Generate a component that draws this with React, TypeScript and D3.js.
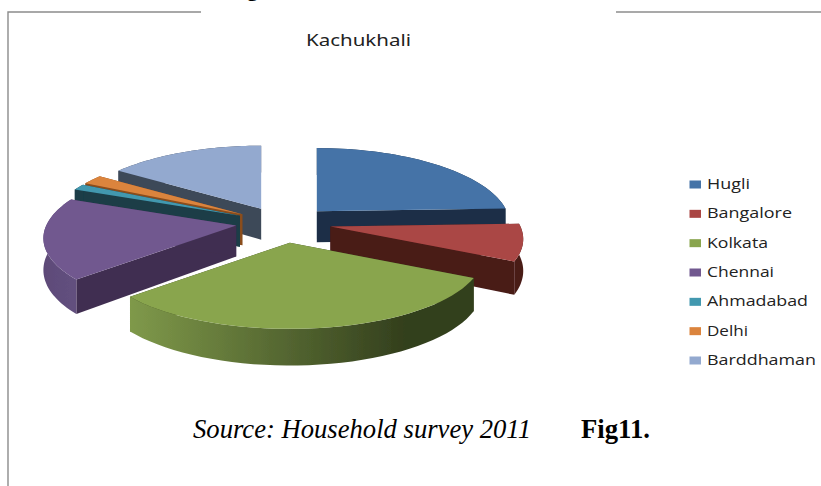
import React from "react";
import * as d3 from "d3";

const categories = ["Hugli", "Bangalore", "Kolkata", "Chennai", "Ahmadabad", "Delhi", "Barddhaman"];
const values = [24.4, 8.0, 31.0, 17.8, 1.35, 2.05, 15.4];
const topColors = ["#4573a7", "#aa4644", "#89a54e", "#71588f", "#4298af", "#db843d", "#93a9cf"];
const wallColors = ["#1c2f47", "#481b18", "#37431f", "#412f51", "#1a3d47", "#8a4d1e", "#3d4859"];
const rimLeftColors = ["#1c2f47", "#481b18", "#7f994a", "#5d4a78", "#1a3d47", "#8a4d1e", "#3d4859"];
const rimRightColors = ["#1c2f47", "#481b18", "#333f1d", "#624f7e", "#1a3d47", "#8a4d1e", "#3d4859"];
const drawOrder = [6, 5, 4, 3, 0, 1, 2];
const legendWidths = [43, 85, 61, 67, 101, 41, 109];

const W = 821, H = 486;
const cx = 283.5, cy = 222, rx = 190, ry = 72.8, perspX = 0.17, perspY = 0.154, depth = 31;
const explodeX = 48, explodeUp = 15, explodeDown = 21;

const project = (a: number) => {
  const u = Math.sin(a), v = -Math.cos(a);
  const sx = 1 / (1 - perspX * v);
  const sy = 1 / (1 - perspY * v);
  return { x: rx * u * sx, y: ry * v * sy, s: sy };
};

const pieGen = d3.pie<number>().sort(null).startAngle(0).endAngle(2 * Math.PI);
const arcs = pieGen(values);
const line = d3.line<[number, number]>();

const legendY = d3.scalePoint<string>().domain(categories).range([184, 360]);

export default function App() {
  const slices = arcs.map((arc, i) => {
    const mid = (arc.startAngle + arc.endAngle) / 2;
    const mv = -Math.cos(mid);
    const ax = cx + explodeX * Math.sin(mid);
    const ay = cy + (mv > 0 ? explodeDown : explodeUp) * mv;
    const steps = d3.range(0, 41).map((k) => arc.startAngle + ((arc.endAngle - arc.startAngle) * k) / 40);
    const rim = steps.map((a) => {
      const p = project(a);
      return { x: ax + p.x, y: ay + p.y, d: depth * p.s };
    });
    const top: [number, number][] = [[ax, ay], ...rim.map((p) => [p.x, p.y] as [number, number])];
    const rimWall: [number, number][] = [
      ...rim.map((p) => [p.x, p.y] as [number, number]),
      ...rim.slice().reverse().map((p) => [p.x, p.y + p.d] as [number, number]),
    ];
    const wall = (p: { x: number; y: number; d: number }): [number, number][] => [
      [ax, ay], [p.x, p.y], [p.x, p.y + p.d], [ax, ay + depth],
    ];
    return {
      i,
      top: line(top) + "Z",
      rimWall: line(rimWall) + "Z",
      wallA: line(wall(rim[0])) + "Z",
      wallB: line(wall(rim[rim.length - 1])) + "Z",
      x0: d3.min(rim, (p) => p.x)!,
      x1: d3.max(rim, (p) => p.x)!,
    };
  });

  return (
    <svg width={W} height={H} viewBox={`0 0 ${W} ${H}`} style={{ position: "absolute", left: 0, top: 0, background: "#fff" }}>
      <defs>
        <filter id="soft" x="-5%" y="-5%" width="110%" height="110%">
          <feGaussianBlur stdDeviation="0.45" />
        </filter>
        {slices.map((s) => (
          <linearGradient key={s.i} id={`rim${s.i}`} gradientUnits="userSpaceOnUse" x1={s.x0} x2={s.x1} y1={0} y2={0}>
            <stop offset="0" stopColor={rimLeftColors[s.i]} />
            <stop offset="0.8" stopColor={rimRightColors[s.i]} />
            <stop offset="1" stopColor={rimRightColors[s.i]} />
          </linearGradient>
        ))}
      </defs>

      <path d="M201,12H8V486" fill="none" stroke="#8c8c8c" strokeWidth={1.4} />
      <path d="M616,12H821" fill="none" stroke="#8c8c8c" strokeWidth={1.4} />
      <text x={247} y={-4} fontFamily="Liberation Serif" fontWeight="bold" fontSize={22} fill="#000">g</text>

      <text x={306} y={46} fontFamily="Noto Sans" fontSize={17} textLength={105} lengthAdjust="spacingAndGlyphs" fill="#222">Kachukhali</text>

      <g filter="url(#soft)">
        {drawOrder.map((i) => {
          const s = slices[i];
          return (
            <g key={i}>
              <path d={s.wallA} fill={wallColors[i]} />
              <path d={s.wallB} fill={wallColors[i]} />
              <path d={s.rimWall} fill={`url(#rim${i})`} />
              <path d={s.top} fill={topColors[i]} />
            </g>
          );
        })}
      </g>

      {categories.map((c, i) => (
        <g key={c}>
          <rect x={689.5} y={legendY(c)! - 3.5} width={11.5} height={8} fill={topColors[i]} />
          <text x={707} y={legendY(c)! + 5} fontFamily="Open Sans" fontSize={15} textLength={legendWidths[i]} lengthAdjust="spacingAndGlyphs" fill="#222">{c}</text>
        </g>
      ))}

      <text x={193} y={438} fontFamily="Liberation Serif" fontStyle="italic" fontSize={27} textLength={338} lengthAdjust="spacingAndGlyphs" fill="#000">Source: Household survey 2011</text>
      <text x={581} y={438} fontFamily="Liberation Serif" fontWeight="bold" fontSize={27} textLength={69} lengthAdjust="spacingAndGlyphs" fill="#000">Fig11.</text>
    </svg>
  );
}
